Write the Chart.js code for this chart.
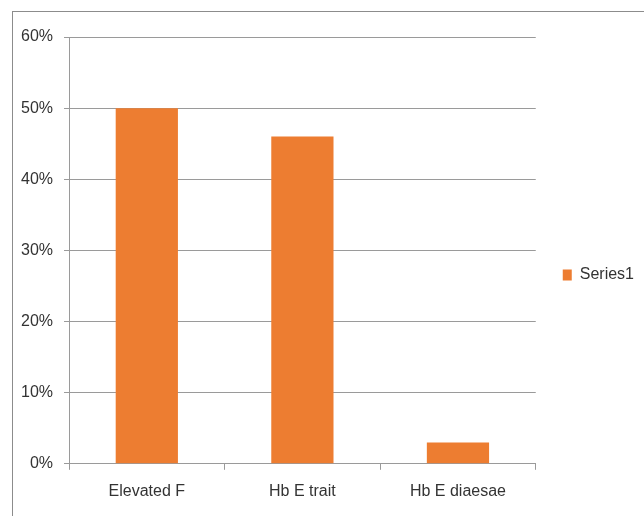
<!DOCTYPE html>
<html>
<head>
  <title>Hb chart</title>
  <script src="https://cdn.jsdelivr.net/npm/chart.js"></script>
  <style>
    body { margin: 0; background: #fff; }
    #frame { position: absolute; left: 12px; top: 11px; width: 700px; height: 600px; border: 1px solid #8c8c8c; }
    #wrap { position: absolute; left: 0; top: 0; width: 644px; height: 516px; }
  </style>
</head>
<body>
  <div id="frame"></div>
  <div id="wrap"><canvas id="hbChart" width="644" height="516"></canvas></div>

  <script>
    const categories = ['Elevated F', 'Hb E trait', 'Hb E diaesae'];
    const series1 = [50, 46, 3];
    const yTicks = [0, 10, 20, 30, 40, 50, 60];

    const gridGray = '#9a9a9a';
    const ctx = document.getElementById('hbChart').getContext('2d');

    Chart.defaults.font.family = '"Liberation Sans", sans-serif';
    Chart.defaults.font.size = 16;
    Chart.defaults.color = '#333';

    const chart = new Chart(ctx, {
      type: 'bar',
      data: {
        labels: categories,
        datasets: [{
          label: 'Series1',
          data: series1,
          backgroundColor: '#ed7d31',
          borderWidth: 0,
          barPercentage: 0.4,
          categoryPercentage: 1.0
        }]
      },
      options: {
        responsive: false,
        animation: false,
        layout: { padding: { left: 10, top: 37, right: 0, bottom: 3 } },
        plugins: {
          tooltip: { enabled: false },
          legend: {
            position: 'right',
            labels: { boxWidth: 9, boxHeight: 11, padding: 27, color: '#333', font: { size: 16 } }
          }
        },
        scales: {
          x: {
            grid: { offset: true, drawOnChartArea: false, drawTicks: true, tickLength: 6, color: gridGray },
            border: { color: gridGray },
            ticks: { padding: 12 }
          },
          y: {
            min: 0,
            max: 60,
            afterBuildTicks: (axis) => { axis.ticks = yTicks.map(v => ({ value: v })); },
            grid: { color: gridGray, tickLength: 5 },
            border: { color: gridGray },
            ticks: { padding: 11, callback: (v) => v + '%' }
          }
        }
      }
    });
  </script>
</body>
</html>
